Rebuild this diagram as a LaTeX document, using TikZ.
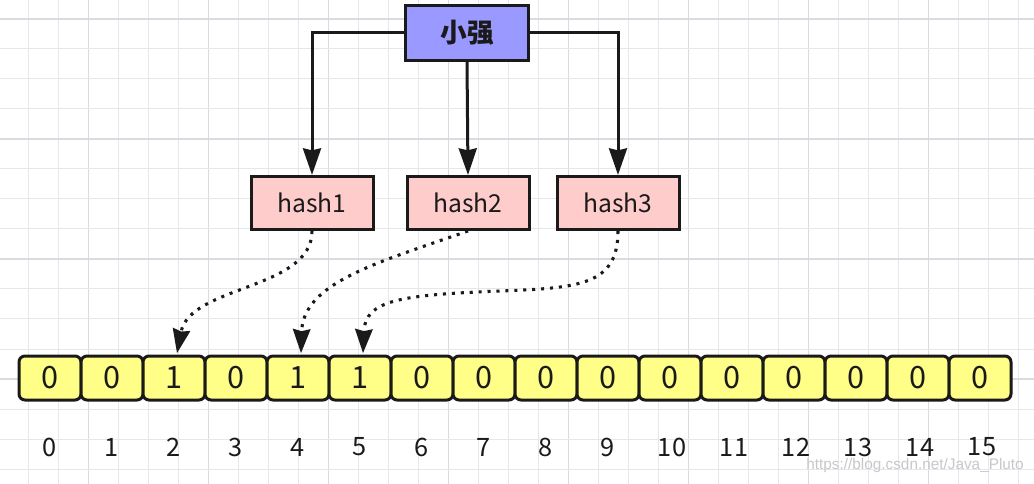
\documentclass[tikz,border=0pt]{standalone}
\usepackage{fontspec}
\setmainfont{Noto Sans CJK SC}
\newfontfamily\wmfont{Liberation Sans}
\usetikzlibrary{arrows.meta}
\definecolor{gridc}{RGB}{230,230,236}
\definecolor{gridd}{RGB}{218,218,224}
\definecolor{ink}{RGB}{26,26,26}
\definecolor{topfill}{RGB}{153,153,255}
\definecolor{hashfill}{RGB}{255,204,204}
\definecolor{cellfill}{RGB}{255,255,136}
\definecolor{wmc}{RGB}{200,200,204}
\tikzset{
  x=0.75pt, y=-0.75pt,
  gthin/.style={gridc, line width=0.75pt},
  gthick/.style={gridd, line width=0.8pt},
  topbox/.style={draw=ink, fill=topfill, line width=2.25pt, minimum width=92.25pt, minimum height=41.25pt, inner sep=0pt, font=\fontsize{20}{22}\selectfont\bfseries, text=ink},
  hashbox/.style={draw=ink, fill=hashfill, line width=2.25pt, minimum width=91.5pt, minimum height=39.75pt, inner sep=0pt, font=\fontsize{18.5}{20}\selectfont, text=ink},
  cellbox/.style={draw=ink, fill=cellfill, line width=2.25pt, rounded corners=4.5pt, minimum width=46.5pt, minimum height=33pt, inner sep=0pt, font=\fontsize{23}{25}\selectfont, text=ink},
  idxlabel/.style={inner sep=0pt, font=\fontsize{19}{21}\selectfont, text=ink},
  conn/.style={draw=ink, line width=2.25pt, -{Stealth[length=20pt,width=13.5pt,inset=1.5pt]}},
  dotconn/.style={draw=ink, line width=2.3pt, dash pattern=on 2.3pt off 4.4pt, -{Stealth[length=18pt,width=13pt,inset=1.5pt]}},
}
\begin{document}
\begin{tikzpicture}
\useasboundingbox (0,0) rectangle (1034,484);
\fill[white] (0,0) rectangle (1034,484);
% grid
\foreach \k in {0,...,33} {
  \pgfmathtruncatemacro{\m}{mod(\k+2,4)}
  \ifnum\m=0
    \draw[gthick] ({28.5+30*\k},0) -- ({28.5+30*\k},484);
  \else
    \draw[gthin] ({28.5+30*\k},0) -- ({28.5+30*\k},484);
  \fi
}
\foreach \k in {0,...,15} {
  \pgfmathtruncatemacro{\m}{mod(\k,4)}
  \ifnum\m=0
    \draw[gthick] (0,{19+30*\k}) -- (1034,{19+30*\k});
  \else
    \draw[gthin] (0,{19+30*\k}) -- (1034,{19+30*\k});
  \fi
}
% nodes
\node[topbox] (xq) at (467,33) {小强};
\node[hashbox] (h1) at (312,203) {hash1};
\node[hashbox] (h2) at (468,203) {hash2};
\node[hashbox] (h3) at (618,203) {hash3};
\foreach \v [count=\n from 0] in {0,0,1,0,1,1,0,0,0,0,0,0,0,0,0,0} {
  \node[cellbox] (c\n) at ({50+62*\n},378) {\v};
  \node[idxlabel] (l\n) at ({50+62*\n+ (\n>9 ? 2 : 0)},447) {\n};
}
% connectors
\draw[conn] (xq.west) -| (h1.north);
\draw[conn] (xq.south) -- (h2.north);
\draw[conn] (xq.east) -| (h3.north);
\draw[dotconn] (h1.south) .. controls (312,290) and (190,285) .. ([xshift=2.25pt,yshift=1pt]c2.north);
\draw[dotconn] (h2.south) .. controls (380,262) and (303,282) .. ([xshift=2.25pt,yshift=1pt]c4.north);
\coordinate (m3) at (500,291);
\draw[dotconn] (h3.south) .. controls (618,285) and (580,288) .. (m3) .. controls (400,295) and (365,300) .. ([xshift=2.25pt,yshift=1pt]c5.north);
% watermark
\node[text=wmc, font=\wmfont\fontsize{11.5}{13}\selectfont, inner sep=0pt, anchor=east] (wm) at (1024,466) {https://blog.csdn.net/Java\_Pluto};
\end{tikzpicture}
\end{document}
